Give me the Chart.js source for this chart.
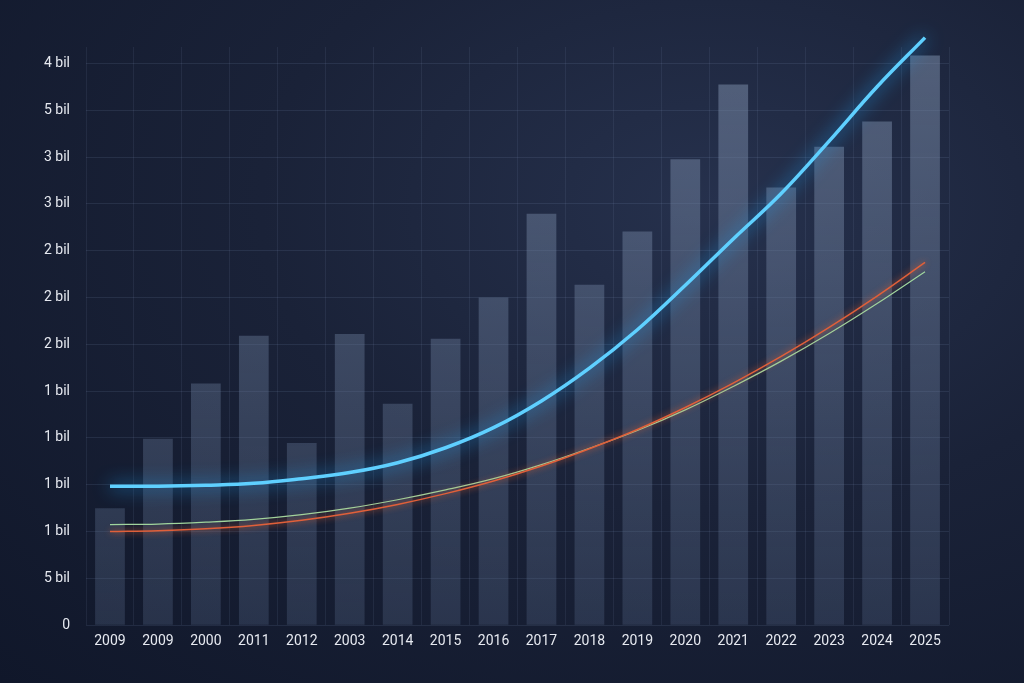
<!DOCTYPE html>
<html><head><meta charset="utf-8">
<script src="https://cdn.jsdelivr.net/npm/chart.js@4/dist/chart.umd.min.js"></script>
<style>
html,body{margin:0;padding:0;width:1024px;height:683px;overflow:hidden;
background:radial-gradient(ellipse at 70% 30%,#26314d 0%,#1a2238 45%,#10172a 100%);}
#w{position:absolute;left:0;top:0;width:1024px;height:683px}
</style></head><body>
<div id="w"><canvas id="c" width="1024" height="683"></canvas></div>
<script>
const categories=["2009","2009","2000","2011","2012","2003","2014","2015","2016","2017","2018","2019","2020","2021","2022","2023","2024","2025"];
const tickLabels=["0","5 bil","1 bil","1 bil","1 bil","1 bil","2 bil","2 bil","2 bil","3 bil","3 bil","5 bil","4 bil"];
const barValues=[2.5,3.98,5.16,6.18,3.89,6.22,4.73,6.12,7.0,8.79,7.27,8.41,9.95,11.55,9.35,10.22,10.76,12.17];
const blueLine=[2.97,2.97,2.99,3.03,3.13,3.26,3.47,3.79,4.22,4.79,5.49,6.31,7.26,8.25,9.22,10.34,11.5,12.55];
const orangeLine=[2.0,2.02,2.06,2.13,2.24,2.39,2.58,2.81,3.08,3.4,3.77,4.18,4.65,5.17,5.74,6.36,7.03,7.75];
const greenLine=[2.15,2.16,2.2,2.26,2.36,2.5,2.68,2.89,3.13,3.43,3.78,4.16,4.6,5.1,5.64,6.23,6.87,7.55];

const glow={id:'glow',
 beforeDatasetDraw(ch,a){const d=ch.data.datasets[a.index];const x=ch.ctx;x.save();
  if(d.glowColor){x.shadowColor=d.glowColor;x.shadowBlur=d.glowBlur||12;}},
 afterDatasetDraw(ch){ch.ctx.restore();}};

new Chart(document.getElementById('c'),{
 type:'bar',
 data:{labels:categories,datasets:[
  {type:'line',data:blueLine,borderColor:'#5fd0ff',borderWidth:3.5,pointRadius:0,tension:0.4,glowColor:'#1fa8ff',glowBlur:18,order:0,clip:false},
  {type:'line',data:orangeLine,borderColor:'#e0603a',borderWidth:1.5,pointRadius:0,tension:0.4,glowColor:'#e06030',glowBlur:6,order:1},
  {type:'line',data:greenLine,borderColor:'#9fd8a0',borderWidth:1.2,pointRadius:0,tension:0.4,order:2},
  {data:barValues,order:3,barPercentage:0.62,categoryPercentage:1,
   backgroundColor:(c)=>{const ch=c.chart,a=ch.chartArea;if(!a)return'rgba(120,140,170,0.4)';
    const g=ch.ctx.createLinearGradient(0,a.top,0,a.bottom);g.addColorStop(0,'rgba(125,142,170,0.55)');g.addColorStop(1,'rgba(90,108,140,0.3)');return g;}}
 ]},
 options:{responsive:false,animation:false,
  layout:{padding:{left:28,right:75,top:47,bottom:25}},
  plugins:{legend:{display:false},tooltip:{enabled:false}},
  scales:{
   x:{grid:{color:'rgba(150,170,210,0.1)',drawTicks:false},border:{display:false},
      ticks:{color:'#e6e9f0',font:{family:'Roboto',size:14},padding:8}},
   y:{min:0,max:12.35,grid:{color:'rgba(150,170,210,0.12)',drawTicks:false},border:{display:false},
      afterBuildTicks:(s)=>{s.ticks=tickLabels.map((_,i)=>({value:i}));},
      ticks:{color:'#e6e9f0',font:{family:'Roboto',size:14},padding:16,callback:(v)=>tickLabels[v]}}
  }},
 plugins:[glow]
});
</script></body></html>
